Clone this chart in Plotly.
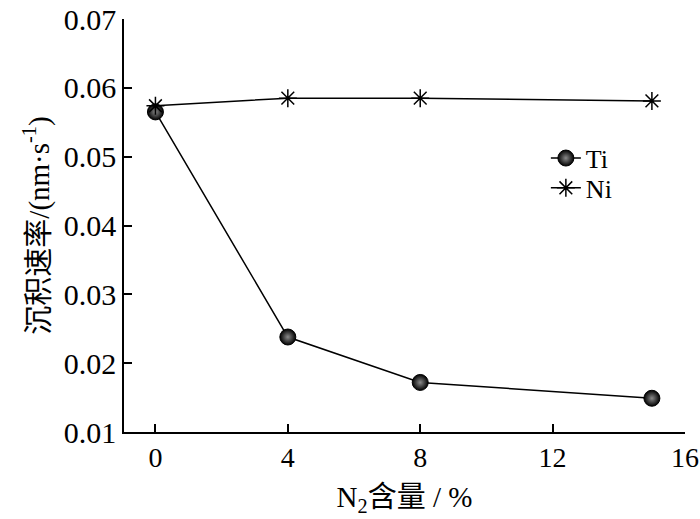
import plotly.graph_objects as go

n2_content = [0, 4, 8, 15]
ti_rate = [0.0565, 0.0238, 0.0172, 0.0149]
ni_rate = [0.0574, 0.0585, 0.0585, 0.0581]

serif = "Liberation Serif, Times New Roman, Noto Sans CJK SC, serif"

fig = go.Figure()

fig.add_trace(go.Scatter(
    x=n2_content, y=ti_rate, name="Ti", mode="lines+markers",
    line=dict(color="black", width=1.5),
    marker=dict(symbol="circle", size=16, color="black",
                gradient=dict(type="radial", color="#8a8a8a"),
                line=dict(color="black", width=1)),
    legend="legend",
))

fig.add_trace(go.Scatter(
    x=n2_content, y=ni_rate, name="Ni", mode="lines+markers",
    line=dict(color="black", width=1.5),
    marker=dict(symbol="asterisk-open", size=15, color="black",
                line=dict(color="black", width=1.5)),
    legend="legend2",
))

fig.update_xaxes(
    range=[-0.95, 16], tickvals=[0, 4, 8, 12, 16],
    ticks="inside", ticklen=8, tickwidth=1.5, tickcolor="black",
    showline=True, linecolor="black", linewidth=1.5, showgrid=False, zeroline=False,
    automargin=False, ticklabeloverflow="allow",
    tickfont=dict(family=serif, size=28, color="black"),
    title=dict(text="N<sub>2</sub>含量 / %", font=dict(family=serif, size=29, color="black"),
               standoff=14),
)

fig.update_yaxes(
    range=[0.01, 0.07], tickvals=[0.01, 0.02, 0.03, 0.04, 0.05, 0.06, 0.07],
    tickformat=".2f",
    ticks="inside", ticklen=8, tickwidth=1.5, tickcolor="black",
    showline=True, linecolor="black", linewidth=1.5, showgrid=False, zeroline=False,
    automargin=False, ticklabeloverflow="allow",
    tickfont=dict(family=serif, size=30, color="black"),
    title=dict(text="沉积速率/(nm·s<sup>-1</sup>)", font=dict(family=serif, size=29, color="black"),
               standoff=6),
)

legend_font = dict(family=serif, size=26, color="black")
fig.update_layout(
    width=700, height=519,
    margin=dict(l=124, r=15, t=19, b=87),
    paper_bgcolor="white", plot_bgcolor="white",
    showlegend=True,
    legend=dict(x=0.752, y=0.72, xanchor="left", yanchor="top",
                font=legend_font, bgcolor="rgba(0,0,0,0)"),
    legend2=dict(x=0.752, y=0.648, xanchor="left", yanchor="top",
                 font=legend_font, bgcolor="rgba(0,0,0,0)"),
)

# page margin off so the 700x519 figure fills the window exactly
fig.write_html("out.html", config={"displayModeBar": False},
               post_script="document.body.style.margin='0';document.body.style.overflow='hidden';")
